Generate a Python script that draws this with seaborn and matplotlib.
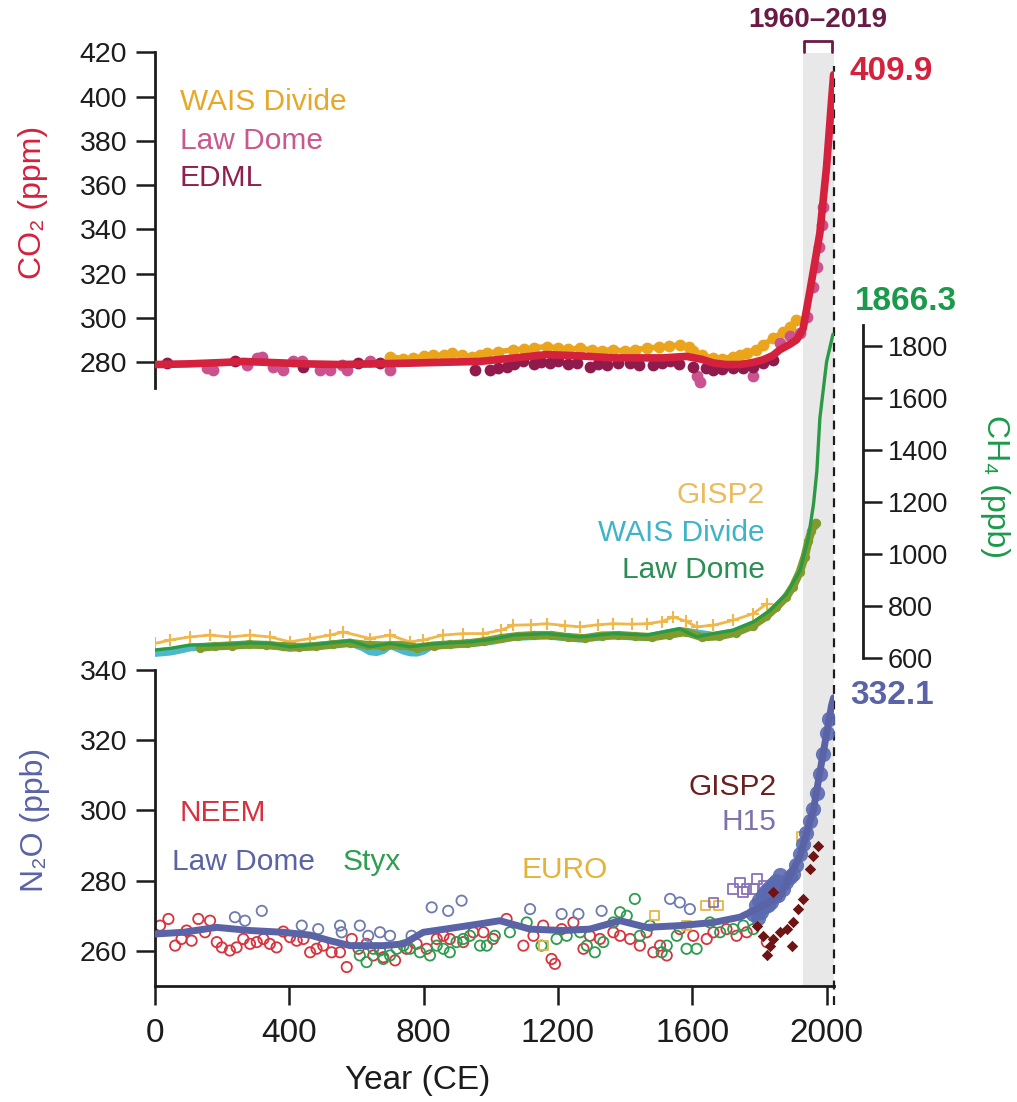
import matplotlib
matplotlib.use("Agg")
import matplotlib.pyplot as plt
import seaborn as sns

# ============================================================
# DATA
# ============================================================

# ---- CO2 (ppm) ----
co2_fit_year = [0, 100, 200, 263, 350, 450, 550, 650, 750, 850, 968, 1066, 1166, 1266, 1365, 1440, 1513,
                1583, 1630, 1663, 1700, 1742, 1780, 1812, 1840, 1861, 1890, 1911, 1930, 1951, 1980, 2000,
                2015, 2021]
co2_fit = [278.9, 279.2, 279.8, 280.3, 279.8, 279.2, 278.9, 279.2, 279.5, 279.9, 280.3, 281.8, 283.4, 282.8,
           281.9, 281.9, 281.9, 282.6, 281.2, 279.6, 278.9, 278.9, 279.8, 281.1, 283.0, 285.6, 288.0, 290.1,
           295.0, 312.7, 338.3, 368.4, 398.5, 409.9]

wais_co2_year = [700, 740, 769, 800, 829, 860, 884, 915, 943, 968, 988, 1020, 1067, 1100, 1130, 1166, 1200,
                 1230, 1266, 1300, 1330, 1365, 1400, 1430, 1464, 1500, 1530, 1563, 1590, 1603, 1630, 1663,
                 1690, 1722, 1742, 1762, 1790, 1812, 1841, 1870, 1890, 1910]
wais_co2 = [282.5, 281.5, 281.8, 282.6, 283.3, 283.0, 284.1, 283.0, 282.5, 283.4, 284.1, 284.6, 285.6, 285.9,
            286.5, 287.0, 286.4, 285.8, 286.3, 285.5, 285.2, 285.6, 285.0, 285.6, 286.3, 286.8, 287.2, 287.8,
            287.0, 284.8, 283.2, 281.8, 281.5, 282.5, 283.2, 284.1, 285.6, 287.8, 290.8, 293.5, 296.0, 299.0]

lawdome_co2_year = [154, 174, 273, 303, 318, 352, 382, 412, 437, 491, 521, 556, 571, 640, 700, 1613, 1623,
                    1782, 1861, 1891, 1921, 1941, 1961, 1971, 1978, 1985, 1990]
lawdome_co2 = [277.3, 276.5, 278.8, 281.8, 282.5, 278.0, 276.5, 280.3, 280.3, 276.5, 276.5, 278.8, 276.5,
               280.3, 276.5, 273.5, 271.2, 273.5, 288.6, 291.6, 293.1, 300.6, 314.1, 323.2, 332.0, 342.0, 350.0]

edml_co2_year = [35, 238, 442, 606, 670, 953, 998, 1020, 1047, 1070, 1097, 1130, 1150, 1176, 1200, 1230,
                 1256, 1295, 1320, 1345, 1380, 1415, 1440, 1484, 1510, 1534, 1560, 1603, 1640, 1663, 1690,
                 1722, 1750, 1782, 1810, 1841]
edml_co2 = [279.5, 280.3, 278.0, 279.5, 279.5, 276.5, 276.5, 277.5, 278.0, 279.0, 280.3, 279.0, 280.0, 279.5,
            280.5, 279.0, 279.5, 278.0, 279.0, 278.8, 279.5, 279.5, 278.5, 278.8, 279.5, 280.3, 279.0, 278.0,
            277.5, 276.5, 277.0, 277.3, 277.5, 278.0, 279.5, 281.0]

# ---- CH4 (ppb) ----
ch4_fit_year = [0, 45, 104, 164, 223, 283, 342, 402, 462, 521, 581, 640, 700, 759, 819, 878, 938, 998, 1067,
                1166, 1266, 1365, 1464, 1563, 1613, 1663, 1722, 1782, 1832, 1881, 1921, 1946, 1961, 1971,
                1980, 2000, 2019]
ch4_fit = [631, 637, 650, 650, 653, 658, 656, 643, 650, 658, 666, 643, 656, 643, 653, 658, 662, 671, 688, 694,
           681, 694, 688, 713, 681, 694, 707, 739, 783, 847, 936, 1064, 1191, 1318, 1522, 1739, 1845]

lawdome_ch4_year = [134, 180, 230, 280, 330, 380, 430, 480, 530, 580, 630, 680, 730, 780, 830, 880, 930, 980,
                    1030, 1080, 1130, 1180, 1230, 1280, 1330, 1380, 1430, 1480, 1530, 1580, 1630, 1680, 1730,
                    1780, 1820, 1850, 1880, 1900, 1920, 1935, 1946, 1955, 1962, 1968]
lawdome_ch4 = [640, 645, 648, 652, 650, 645, 642, 645, 652, 658, 650, 648, 650, 640, 648, 652, 656, 664, 676,
               684, 688, 688, 680, 676, 686, 688, 684, 680, 690, 700, 680, 684, 698, 725, 760, 795, 835, 875,
               930, 990, 1050, 1090, 1110, 1120]

wais_ch4_year = [0, 20, 45, 70, 104, 130, 164, 223, 283, 342, 402, 462, 521, 581, 620, 640, 660, 680, 700,
                 740, 760, 780, 800, 820, 878, 938, 998, 1067, 1166, 1266, 1365, 1464, 1563, 1663, 1722, 1782]
wais_ch4 = [619, 621, 624, 630, 640, 643, 645, 648, 652, 650, 638, 645, 652, 660, 640, 625, 622, 630, 650,
            628, 621, 620, 628, 645, 652, 656, 664, 680, 686, 674, 686, 680, 705, 686, 699, 730]

gisp2_ch4_year = [0, 45, 104, 164, 223, 283, 342, 402, 462, 521, 561, 640, 700, 759, 799, 858, 918, 978,
                  1030, 1067, 1120, 1166, 1220, 1266, 1320, 1365, 1420, 1464, 1510, 1543, 1580, 1613, 1663,
                  1722, 1782, 1822]
gisp2_ch4 = [656, 669, 681, 688, 681, 688, 681, 662, 675, 688, 700, 675, 688, 662, 669, 688, 694, 694, 707,
             726, 728, 732, 725, 720, 728, 732, 730, 732, 740, 758, 742, 720, 726, 745, 771, 809]

# ---- N2O (ppb) ----
n2o_fit_year = [0, 84, 184, 283, 382, 462, 521, 581, 680, 740, 799, 878, 968, 1027, 1117, 1216, 1295, 1385,
                1464, 1563, 1663, 1742, 1792, 1861, 1921, 1961, 1990, 2015, 2021]
n2o_fit = [264.8, 265.3, 266.7, 265.8, 265.3, 264.5, 262.9, 261.5, 261.5, 262.0, 265.3, 266.4, 267.7, 268.6,
           266.2, 265.8, 266.2, 268.6, 266.7, 267.2, 268.1, 269.6, 271.9, 275.7, 287.0, 300.3, 316.4, 330.0,
           332.1]

neem_year = [15, 40, 60, 79, 94, 109, 129, 149, 164, 184, 199, 223, 243, 263, 283, 303, 323, 342, 362, 382,
             402, 422, 442, 462, 481, 501, 526, 551, 571, 586, 606, 630, 650, 680, 715, 749, 779, 809, 839,
             859, 878, 918, 948, 978, 1007, 1047, 1097, 1127, 1156, 1181, 1191, 1211, 1246, 1276, 1295, 1325,
             1365, 1385, 1415, 1444, 1464, 1484, 1504, 1524, 1563, 1603, 1643, 1663, 1702, 1732, 1762, 1822]
neem = [267.2, 269.1, 261.5, 263.4, 265.8, 262.9, 269.1, 265.3, 268.6, 262.5, 261.0, 260.1, 261.0, 263.4,
        262.0, 262.5, 263.4, 262.0, 261.0, 265.5, 263.9, 262.9, 263.4, 259.6, 260.6, 261.5, 259.6, 259.6,
        255.4, 263.4, 260.6, 262.0, 258.7, 258.2, 257.3, 260.6, 262.0, 260.6, 263.4, 264.3, 263.4, 262.5,
        265.3, 265.3, 263.4, 269.1, 261.5, 264.3, 267.2, 257.7, 256.3, 266.2, 268.1, 260.6, 264.3, 263.4,
        265.3, 264.3, 263.4, 261.5, 265.3, 259.6, 261.5, 258.7, 266.2, 264.3, 263.4, 265.3, 266.2, 264.3,
        265.3, 262.5]

lawdome_n2o_year = [238, 268, 318, 437, 486, 551, 556, 610, 635, 670, 700, 764, 824, 873, 913, 1117, 1211,
                    1261, 1330, 1534, 1563, 1593]
lawdome_n2o = [269.6, 268.6, 271.4, 267.2, 266.2, 267.2, 265.3, 267.2, 264.3, 265.3, 264.3, 264.3, 272.4,
               271.4, 274.3, 271.9, 270.5, 270.5, 271.4, 274.8, 273.8, 271.9]

styx_year = [610, 630, 650, 670, 680, 700, 720, 740, 759, 789, 819, 839, 859, 878, 898, 918, 938, 968, 988,
             1012, 1057, 1107, 1151, 1196, 1226, 1266, 1286, 1310, 1335, 1365, 1385, 1405, 1429, 1444, 1474,
             1509, 1524, 1554, 1583, 1613, 1653, 1683, 1722, 1752, 1782]
styx = [258.7, 256.8, 260.6, 260.1, 257.7, 258.7, 260.6, 261.5, 260.6, 259.6, 258.7, 261.5, 260.6, 259.6,
        262.5, 263.4, 264.3, 261.5, 261.5, 264.3, 265.3, 268.1, 261.5, 263.4, 264.3, 265.3, 261.5, 259.6,
        262.5, 268.1, 271.0, 270.0, 274.8, 264.3, 267.2, 259.6, 261.5, 264.3, 260.6, 260.6, 268.1, 265.3,
        266.2, 267.2, 266.2]

euro_year = [1156, 1489, 1583, 1638, 1678, 1926]
euro = [261.5, 270.0, 267.2, 272.9, 272.9, 292.7]

h15_year = [1663, 1722, 1742, 1752, 1762, 1782, 1792, 1812]
h15 = [273.8, 277.6, 279.5, 276.7, 277.6, 277.6, 280.4, 278.5]

h15_dense_year = [1780, 1790, 1795, 1800, 1805, 1810, 1815, 1820, 1825, 1830, 1835, 1840, 1845, 1850, 1855,
                  1860, 1870, 1880, 1890, 1900, 1910, 1920, 1930, 1940, 1950, 1960, 1970, 1980, 1990, 2000,
                  2008]
h15_dense = [270.5, 273.0, 269.5, 274.5, 271.0, 276.0, 272.5, 277.0, 273.0, 278.0, 274.0, 279.0, 275.5, 280.0,
             276.0, 281.5, 277.5, 279.5, 281.0, 282.0, 284.5, 287.5, 290.5, 293.5, 297.0, 300.5, 305.0, 310.5,
             316.0, 322.0, 326.0]

gisp2_n2o_year = [1792, 1812, 1822, 1831, 1841, 1841, 1861, 1881, 1896, 1901, 1916, 1931, 1951, 1961, 1975]
gisp2_n2o = [267.2, 264.3, 258.7, 261.5, 263.4, 276.7, 265.3, 266.2, 261.5, 268.1, 271.9, 274.8, 283.3,
             287.1, 289.9]

latest_co2, latest_ch4, latest_n2o = "409.9", "1866.3", "332.1"
period_label = "1960\u20132019"

year_ticks = [0, 400, 800, 1200, 1600, 2000]
co2_ticks = [280, 300, 320, 340, 360, 380, 400, 420]
ch4_ticks = [600, 800, 1000, 1200, 1400, 1600, 1800]
n2o_ticks = [260, 280, 300, 320, 340]

# ============================================================
# STYLE / LAYOUT
# ============================================================

sns.set_theme(style="white")
plt.rcParams["font.family"] = ["Liberation Sans", "DejaVu Sans"]

W, H = 1017, 1102
INK = "#1c1c1c"
C_CO2, C_CH4, C_N2O = "#d4213d", "#1b9a4b", "#5a63a6"
XLIM = (0, 2023)
SHADE = (1930, 2023)
DASH_YEAR = 2021

fig = plt.figure(figsize=(W / 100, H / 100), dpi=100)


def px_axes(top, bottom, left=155, right=834.3):
    ax = fig.add_axes([left / W, 1 - bottom / H, (right - left) / W, (bottom - top) / H])
    ax.set_facecolor("none")
    for sp in ax.spines.values():
        sp.set_visible(False)
        sp.set_linewidth(2.0)
        sp.set_color(INK)
    ax.set_xlim(XLIM)
    ax.set_xticks([])
    ax.set_xlabel("")
    ax.set_ylabel("")
    return ax


def ftext(px, py, s, **kw):
    fig.text(px / W, 1 - py / H, s, **kw)


def scatter(ax, x, y, color, marker="o", s=50, hollow=False, lw=1.3, **kw):
    if hollow:
        sns.scatterplot(x=x, y=y, ax=ax, color=color, marker=marker, s=s, facecolors="none",
                        edgecolor=color, linewidth=lw, legend=False, **kw)
    else:
        sns.scatterplot(x=x, y=y, ax=ax, color=color, marker=marker, s=s, edgecolor=color,
                        linewidth=lw, legend=False, **kw)


def line(ax, x, y, color, lw, **kw):
    sns.lineplot(x=x, y=y, ax=ax, color=color, linewidth=lw, estimator=None, sort=False,
                 legend=False, **kw)


# background: shaded period + dashed line + bracket
bg = px_axes(53, 1005)
bg.set_ylim(0, 1)
bg.axis("off")
bg.axvspan(SHADE[0], SHADE[1], ymin=(1005 - 986) / 952, ymax=1, color="#e8e8e8", lw=0, zorder=0)
bg.plot([DASH_YEAR, DASH_YEAR], [0, (1005 - 66) / 952], color=INK, lw=1.6, ls=(0, (4, 3)), clip_on=False)
bg.plot([SHADE[0] + 4, SHADE[0] + 4, DASH_YEAR - 4, DASH_YEAR - 4], [1.001, 1.0125, 1.0125, 1.001],
        color="#6a1b45", lw=2.0, clip_on=False)
ftext(818, 20, period_label, color="#6a1b45", fontsize=20, fontweight="bold", ha="center", va="center")

# ---------------- CO2 panel ----------------
ax_co2 = px_axes(52.3, 388)
ax_co2.set_ylim(268.3, 420)
ax_co2.spines["left"].set_visible(True)
line(ax_co2, wais_co2_year, wais_co2, "#eaa51c", 4.0, zorder=2)
scatter(ax_co2, wais_co2_year, wais_co2, "#eaa51c", s=72, lw=0, zorder=2)
scatter(ax_co2, lawdome_co2_year, lawdome_co2, "#c9528f", s=72, lw=0, zorder=2)
scatter(ax_co2, edml_co2_year, edml_co2, "#8e1b4c", s=72, lw=0, zorder=2)
line(ax_co2, co2_fit_year, co2_fit, C_CO2, 5.5, zorder=3)
ax_co2.set_yticks(co2_ticks)
ax_co2.tick_params(axis="y", left=True, length=14, width=1.8, pad=6, labelsize=20.5,
                   color=INK, labelcolor=INK)

# ---------------- CH4 panel ----------------
ax_ch4 = px_axes(325.2, 658)
ax_ch4.set_ylim(600, 1880)
ax_ch4.spines["right"].set_visible(True)
ax_ch4.spines["right"].set_position(("axes", (863 - 155) / 679.3))
line(ax_ch4, gisp2_ch4_year, gisp2_ch4, "#f0b84a", 2.0, zorder=2)
scatter(ax_ch4, gisp2_ch4_year, gisp2_ch4, "#f0b84a", marker="+", s=70, lw=1.5, zorder=2)
line(ax_ch4, wais_ch4_year, wais_ch4, "#4bb8cc", 5.5, zorder=2)
line(ax_ch4, lawdome_ch4_year, lawdome_ch4, "#7e9b2d", 6.0, zorder=3)
scatter(ax_ch4, lawdome_ch4_year, lawdome_ch4, "#7e9b2d", s=45, lw=0, zorder=3)
line(ax_ch4, ch4_fit_year, ch4_fit, "#2a9a45", 2.4, zorder=4)
ax_ch4.set_yticks(ch4_ticks)
ax_ch4.yaxis.tick_right()
ax_ch4.tick_params(axis="y", right=True, left=False, labelright=True, labelleft=False, length=14,
                   width=1.8, pad=4, labelsize=19.5, color=INK, labelcolor=INK)

# ---------------- N2O panel ----------------
ax_n2o = px_axes(670, 986)
ax_n2o.set_ylim(250, 340)
ax_n2o.spines["left"].set_visible(True)
ax_n2o.spines["bottom"].set_visible(True)
scatter(ax_n2o, neem_year, neem, "#d8343f", s=55, hollow=True, zorder=2)
scatter(ax_n2o, styx_year, styx, "#2e9b4e", s=55, hollow=True, zorder=2)
scatter(ax_n2o, lawdome_n2o_year, lawdome_n2o, "#6e7baf", s=55, hollow=True, zorder=2)
scatter(ax_n2o, euro_year, euro, "#e5b740", marker="s", s=42, hollow=True, zorder=2)
scatter(ax_n2o, h15_year, h15, "#8a72b8", marker="s", s=48, hollow=True, zorder=2)
scatter(ax_n2o, h15_dense_year, h15_dense, "#5a6ab0", s=120, lw=0, alpha=0.9, zorder=3)
line(ax_n2o, n2o_fit_year, n2o_fit, C_N2O, 5.0, zorder=4)
scatter(ax_n2o, gisp2_n2o_year, gisp2_n2o, "#6e1414", marker="D", s=34, lw=0, zorder=5)
ax_n2o.set_yticks(n2o_ticks)
ax_n2o.set_xticks(year_ticks)
ax_n2o.set_xticklabels([str(t) for t in year_ticks])
ax_n2o.tick_params(axis="y", left=True, length=14, width=1.8, pad=6, labelsize=20.5,
                   color=INK, labelcolor=INK)
ax_n2o.tick_params(axis="x", bottom=True, length=14, width=1.8, pad=9, labelsize=24,
                   color=INK, labelcolor=INK)

# ---------------- text labels ----------------
lab = dict(fontsize=21.5, va="center")
ftext(180, 102, "WAIS Divide", color="#e7a82a", ha="left", **lab)
ftext(180, 141, "Law Dome", color="#c9588f", ha="left", **lab)
ftext(180, 178, "EDML", color="#8e1f4e", ha="left", **lab)

ftext(765, 495, "GISP2", color="#ecbb5c", ha="right", **lab)
ftext(765, 533, "WAIS Divide", color="#3fb3c7", ha="right", **lab)
ftext(765, 570, "Law Dome", color="#2b8e52", ha="right", **lab)

ftext(180, 813, "NEEM", color="#d8303f", ha="left", **lab)
ftext(172, 862, "Law Dome", color="#5a64a5", ha="left", **lab)
ftext(343, 862, "Styx", color="#2e9e50", ha="left", **lab)
ftext(522, 870, "EURO", color="#e4b33a", ha="left", **lab)
ftext(777, 787, "GISP2", color="#6b2020", ha="right", **lab)
ftext(776, 822, "H15", color="#7f70b0", ha="right", **lab)

val = dict(fontsize=24, fontweight="bold", ha="left", va="center")
ftext(850, 72, latest_co2, color=C_CO2, **val)
ftext(855, 302, latest_ch4, color=C_CH4, **val)
ftext(850, 695, latest_n2o, color=C_N2O, **val)

ftext(33, 202, "CO\u2082 (ppm)", color=C_CO2, fontsize=23, rotation=90, ha="center", va="center")
ftext(995, 487, "CH\u2084 (ppb)", color=C_CH4, fontsize=23, rotation=270, ha="center", va="center")
ftext(35, 820, "N\u2082O (ppb)", color=C_N2O, fontsize=23, rotation=90, ha="center", va="center")
ftext(418, 1080, "Year (CE)", color=INK, fontsize=24, ha="center", va="center")

fig.savefig("out.png", dpi=100)
plt.close(fig)
